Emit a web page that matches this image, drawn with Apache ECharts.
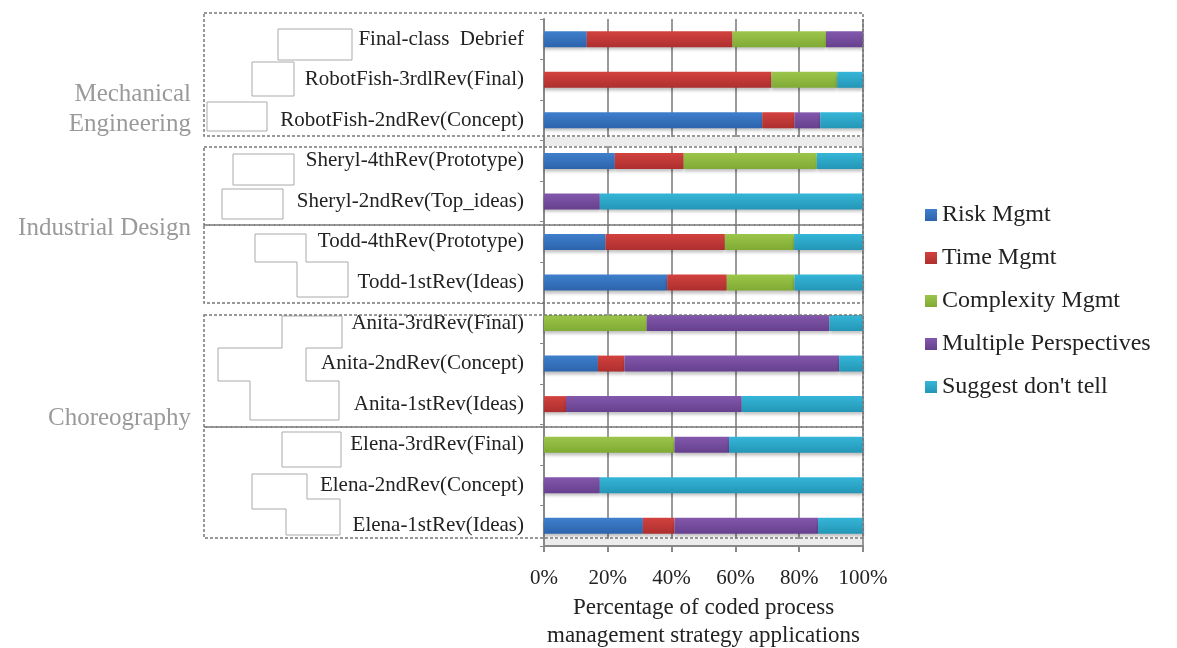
<!DOCTYPE html>
<html>
<head>
<meta charset="utf-8">
<script src="https://cdn.jsdelivr.net/npm/echarts@6/dist/echarts.min.js"></script>
<style>
html,body{margin:0;padding:0;background:#fff;}
#chart{width:1177px;height:648px;}
</style>
</head>
<body>
<div id="chart"></div>
<script>
const categories = [
  "Final-class  Debrief",
  "RobotFish-3rdlRev(Final)",
  "RobotFish-2ndRev(Concept)",
  "Sheryl-4thRev(Prototype)",
  "Sheryl-2ndRev(Top_ideas)",
  "Todd-4thRev(Prototype)",
  "Todd-1stRev(Ideas)",
  "Anita-3rdRev(Final)",
  "Anita-2ndRev(Concept)",
  "Anita-1stRev(Ideas)",
  "Elena-3rdRev(Final)",
  "Elena-2ndRev(Concept)",
  "Elena-1stRev(Ideas)"
];
const seriesNames = ["Risk Mgmt", "Time Mgmt", "Complexity Mgmt", "Multiple Perspectives", "Suggest don't tell"];
const riskMgmt        = [13.4, 0,    68.4, 22.2, 0,    19.3, 38.6, 0,    16.9, 0,    0,    0,    31.0];
const timeMgmt        = [45.7, 71.3, 10.1, 21.6, 0,    37.4, 18.7, 0,    8.3,  6.9,  0,    0,    9.9];
const complexityMgmt  = [29.3, 20.6, 0,    41.7, 0,    21.7, 21.2, 32.2, 0,    0,    40.9, 0,    0];
const multiplePersp   = [11.6, 0,    8.1,  0,    17.5, 0,    0,    57.3, 67.3, 55.1, 17.1, 17.5, 45.0];
const suggestDontTell = [0,    8.1,  13.4, 14.5, 82.5, 21.6, 21.5, 10.5, 7.5,  38.0, 42.0, 82.5, 14.1];
const xTicks = [0, 20, 40, 60, 80, 100];
const groupLabels = ["Mechanical\nEngineering", "Industrial Design", "Choreography"];

const seriesData = [riskMgmt, timeMgmt, complexityMgmt, multiplePersp, suggestDontTell];
const colorPairs = [
  ["#3f7fcc", "#2c64ac"],
  ["#d2423f", "#ad2f2e"],
  ["#9cc64a", "#7faa34"],
  ["#8358ad", "#66408e"],
  ["#35b6d8", "#2496b6"]
];
function grad(c) {
  return {type: 'linear', x: 0, y: 0, x2: 0, y2: 1,
    colorStops: [{offset: 0, color: c[0]}, {offset: 1, color: c[1]}]};
}
const serif = "'Liberation Serif', 'DejaVu Serif', serif";

const chart = echarts.init(document.getElementById('chart'), null, {renderer: 'canvas'});

const dashStyle = {stroke: '#777', lineWidth: 1.5, lineDash: [3, 2], fill: null};
const boxStyle = {stroke: '#aaa', lineWidth: 1, fill: '#fff'};
function rect(x1, y1, x2, y2, style, z) {
  return {type: 'rect', shape: {x: x1, y: y1, width: x2 - x1, height: y2 - y1}, style: style, z: z, silent: true};
}
function poly(points, style, z) {
  return {type: 'polygon', shape: {points: points}, style: style, z: z, silent: true};
}

const graphics = [
  // light gray strips between groups inside the plot
  rect(545, 137, 862, 146, {fill: '#ececec'}, 1),
  rect(545, 539, 862, 545, {fill: '#ececec'}, 1),
  // dashed group boxes
  rect(204, 13, 863, 136, dashStyle, 200),
  rect(204, 147, 863, 225, dashStyle, 200),
  rect(204, 225, 863, 303, dashStyle, 200),
  rect(204, 315, 863, 427, dashStyle, 200),
  rect(204, 427, 863, 538, dashStyle, 200),
  // empty text-box artifacts
  rect(278, 29, 352, 60, boxStyle, 150),
  rect(252, 62, 294, 96, boxStyle, 150),
  rect(207, 102, 267, 131, boxStyle, 150),
  rect(233, 154, 294, 185, boxStyle, 150),
  rect(222, 189, 283, 219, boxStyle, 150),
  poly([[255,234],[306,234],[306,262],[348,262],[348,297],[297,297],[297,262],[255,262]], boxStyle, 150),
  poly([[282,316],[342,316],[342,348],[306,348],[306,381],[339,381],[339,420],[250,420],[250,381],[218,381],[218,348],[282,348]], boxStyle, 150),
  rect(282, 432, 341, 467, boxStyle, 150),
  poly([[252,474],[307,474],[307,499],[340,499],[340,535],[286,535],[286,509],[252,509]], boxStyle, 150),
  // group labels
  {type: 'text', right: 1177 - 191, top: 79, z: 210, silent: true,
    style: {text: groupLabels[0], font: "25px " + serif, fill: '#9a9a9a', textAlign: 'right', lineHeight: 30}},
  {type: 'text', right: 1177 - 191, top: 216, z: 210, silent: true,
    style: {text: groupLabels[1], font: "25px " + serif, fill: '#9a9a9a', textAlign: 'right'}},
  {type: 'text', right: 1177 - 191, top: 406, z: 210, silent: true,
    style: {text: groupLabels[2], font: "25px " + serif, fill: '#9a9a9a', textAlign: 'right'}}
];

const option = {
  backgroundColor: '#fff',
  animation: false,
  grid: {left: 544, right: 1177 - 863, top: 19, bottom: 648 - 546, containLabel: false, outerBoundsMode: 'none'},
  legend: {
    orient: 'vertical',
    left: 920,
    top: 198,
    itemWidth: 12,
    itemHeight: 12,
    itemGap: 19,
    icon: 'rect',
    data: seriesNames,
    textStyle: {fontFamily: serif, fontSize: 24, color: '#222'}
  },
  xAxis: {
    type: 'value',
    min: xTicks[0],
    max: xTicks[xTicks.length - 1],
    interval: xTicks[1] - xTicks[0],
    axisLabel: {formatter: '{value}%', fontFamily: serif, fontSize: 21, color: '#222', margin: 22},
    axisLine: {show: true, lineStyle: {color: '#888', width: 2}},
    axisTick: {show: true, length: 6, lineStyle: {color: '#888', width: 2}},
    splitLine: {show: true, lineStyle: {color: '#999', width: 2}},
    name: 'Percentage of coded process\nmanagement strategy applications',
    nameLocation: 'middle',
    nameGap: 46,
    nameTextStyle: {fontFamily: serif, fontSize: 23, color: '#222', lineHeight: 28}
  },
  yAxis: {
    type: 'category',
    inverse: true,
    data: categories,
    axisLine: {show: true, lineStyle: {color: '#888', width: 2}},
    axisTick: {show: true, length: 4, lineStyle: {color: '#888'}},
    axisLabel: {fontFamily: serif, fontSize: 21, color: '#222', margin: 20, padding: [8, 0, 0, 0]}
  },
  series: seriesNames.map((name, i) => ({
    name: name,
    type: 'bar',
    stack: 'total',
    barWidth: 16,
    data: seriesData[i],
    itemStyle: {
      color: grad(colorPairs[i]),
      shadowColor: 'rgba(0,0,0,0.25)',
      shadowBlur: 3,
      shadowOffsetY: 3
    }
  })),
  graphic: graphics
};
chart.setOption(option);
</script>
</body>
</html>
